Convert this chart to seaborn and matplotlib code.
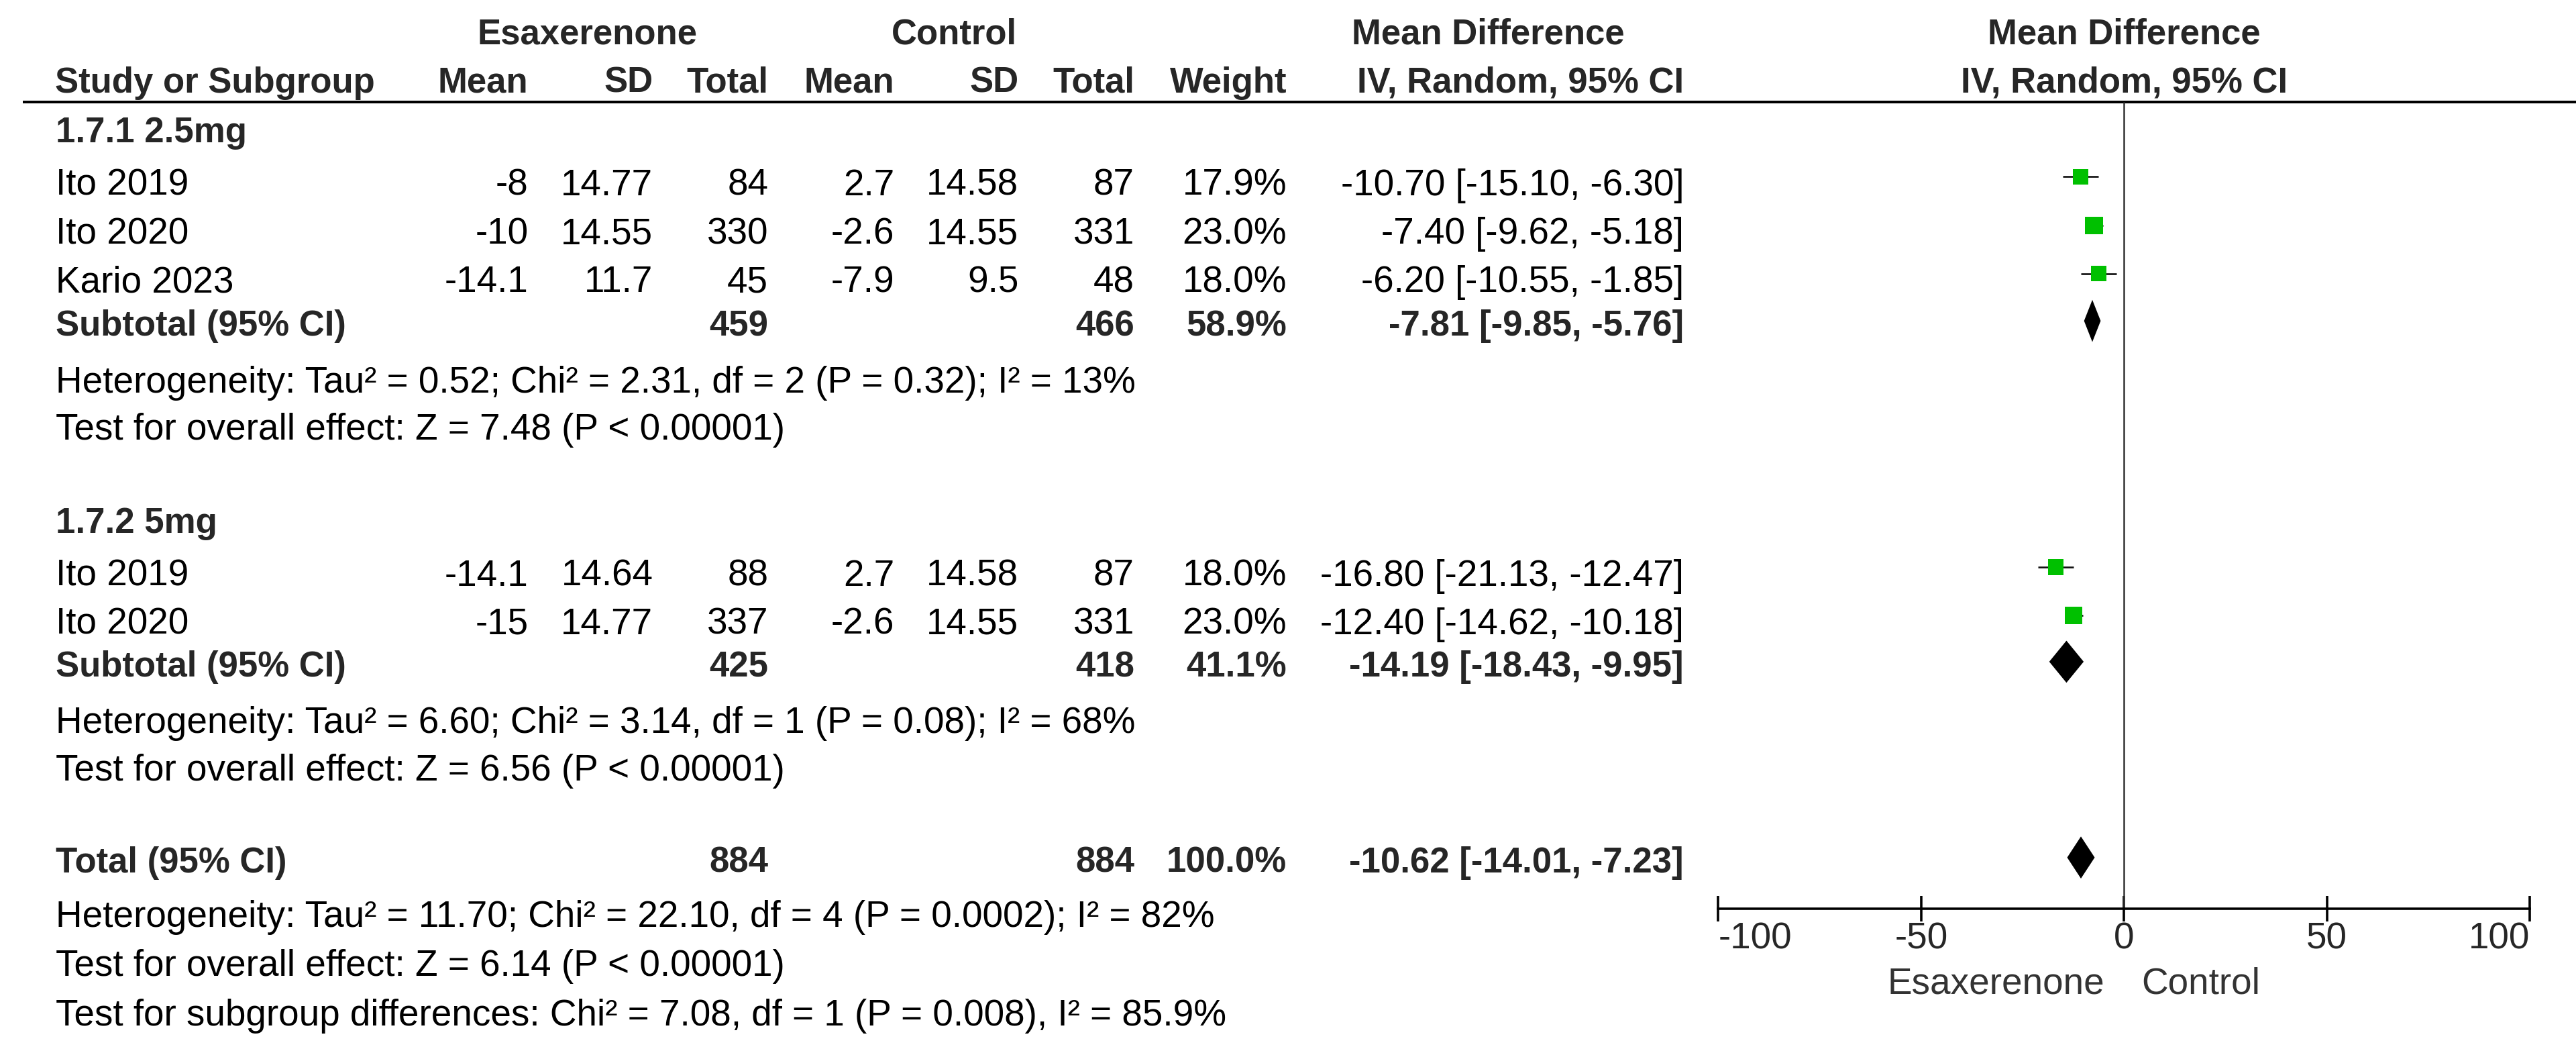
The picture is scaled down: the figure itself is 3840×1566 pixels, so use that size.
import numpy as np
import pandas as pd
import matplotlib
matplotlib.use("Agg")
import matplotlib.pyplot as plt
import seaborn as sns

# ---------------- data ----------------
group_titles = ["1.7.1 2.5mg", "1.7.2 5mg"]

g1_studies = ["Ito 2019", "Ito 2020", "Kario 2023"]
g1_e_mean = [-8, -10, -14.1]
g1_e_sd = [14.77, 14.55, 11.7]
g1_e_n = [84, 330, 45]
g1_c_mean = [2.7, -2.6, -7.9]
g1_c_sd = [14.58, 14.55, 9.5]
g1_c_n = [87, 331, 48]
g1_weight = [17.9, 23.0, 18.0]
g1_md = [-10.70, -7.40, -6.20]
g1_lo = [-15.10, -9.62, -10.55]
g1_hi = [-6.30, -5.18, -1.85]
g1_sub = dict(e_n=459, c_n=466, weight=58.9, md=-7.81, lo=-9.85, hi=-5.76)
g1_het = "Heterogeneity: Tau² = 0.52; Chi² = 2.31, df = 2 (P = 0.32); I² = 13%"
g1_test = "Test for overall effect: Z = 7.48 (P < 0.00001)"

g2_studies = ["Ito 2019", "Ito 2020"]
g2_e_mean = [-14.1, -15]
g2_e_sd = [14.64, 14.77]
g2_e_n = [88, 337]
g2_c_mean = [2.7, -2.6]
g2_c_sd = [14.58, 14.55]
g2_c_n = [87, 331]
g2_weight = [18.0, 23.0]
g2_md = [-16.80, -12.40]
g2_lo = [-21.13, -14.62]
g2_hi = [-12.47, -10.18]
g2_sub = dict(e_n=425, c_n=418, weight=41.1, md=-14.19, lo=-18.43, hi=-9.95)
g2_het = "Heterogeneity: Tau² = 6.60; Chi² = 3.14, df = 1 (P = 0.08); I² = 68%"
g2_test = "Test for overall effect: Z = 6.56 (P < 0.00001)"

total = dict(e_n=884, c_n=884, weight=100.0, md=-10.62, lo=-14.01, hi=-7.23)
total_het = "Heterogeneity: Tau² = 11.70; Chi² = 22.10, df = 4 (P = 0.0002); I² = 82%"
total_test = "Test for overall effect: Z = 6.14 (P < 0.00001)"
subgroup_test = "Test for subgroup differences: Chi² = 7.08, df = 1 (P = 0.008), I² = 85.9%"

x_ticks = [-100, -50, 0, 50, 100]
left_label = "Esaxerenone"
right_label = "Control"

# ---------------- layout (reference frame 1568 x 639.3) ----------------
W, H = 1568.0, 639.3
FS = 39.5      # regular text
FSB = 38       # bold text
BOLD_C = "#262626"
GREEN = "#00C000"

sns.set_theme(style="white")
plt.rcParams["font.family"] = ["Liberation Sans", "DejaVu Sans"]

fig = plt.figure(figsize=(38.41, 15.66), dpi=100)
tab = fig.add_axes([0, 0, 1, 1])
tab.set_xlim(0, W)
tab.set_ylim(H, 0)
tab.axis("off")

X0, X1 = 1045.6, 1539.5  # -100 .. 100
ax = fig.add_axes([X0 / W, 0, (X1 - X0) / W, 1])
ax.set_facecolor("none")
ax.set_xlim(-100, 100)
ax.set_ylim(H, 0)

CAP = 7.7


def txt(x, y, s, ha="left", bold=False, color=None):
    tab.text(x, y + CAP, s, ha=ha, va="baseline",
             fontsize=FSB if bold else FS,
             fontweight="bold" if bold else "normal",
             color=color if color else (BOLD_C if bold else "black"))


col_e_mean, col_e_sd, col_e_n = 321.5, 397.4, 467.5
col_c_mean, col_c_sd, col_c_n = 544.3, 619.8, 690.3
col_w, col_ci = 783.0, 1024.7
col_left = 34.0

# headers
txt(357.6, 19, "Esaxerenone", ha="center", bold=True)
txt(580.6, 19, "Control", ha="center", bold=True)
txt(905.5, 19, "Mean Difference", ha="center", bold=True)
txt(1292.7, 19, "Mean Difference", ha="center", bold=True)
txt(col_left - 0.5, 48.5, "Study or Subgroup", bold=True)
for xc, s in [(col_e_mean, "Mean"), (col_e_sd, "SD"), (col_e_n, "Total"),
              (col_c_mean, "Mean"), (col_c_sd, "SD"), (col_c_n, "Total"),
              (col_w, "Weight"), (col_ci, "IV, Random, 95% CI")]:
    txt(xc, 48.5, s, ha="right", bold=True)
txt(1292.7, 48.5, "IV, Random, 95% CI", ha="center", bold=True)
tab.hlines(62, 14, W, color="black", lw=2.9)


def ci_str(m, lo, hi):
    return f"{m:.2f} [{lo:.2f}, {hi:.2f}]"


def study_rows(studies, em, esd, en, cm, csd, cn, w, md, lo, hi, ys):
    for i, s in enumerate(studies):
        y = ys[i]
        txt(col_left, y, s)
        txt(col_e_mean, y, f"{em[i]:g}", ha="right")
        txt(col_e_sd, y, f"{esd[i]:g}", ha="right")
        txt(col_e_n, y, f"{en[i]}", ha="right")
        txt(col_c_mean, y, f"{cm[i]:g}", ha="right")
        txt(col_c_sd, y, f"{csd[i]:g}", ha="right")
        txt(col_c_n, y, f"{cn[i]}", ha="right")
        txt(col_w, y, f"{w[i]:.1f}%", ha="right")
        txt(col_ci, y, ci_str(md[i], lo[i], hi[i]), ha="right")


def summary_row(label, d, y):
    txt(col_left, y, label, bold=True)
    txt(col_e_n, y, f"{d['e_n']}", ha="right", bold=True)
    txt(col_c_n, y, f"{d['c_n']}", ha="right", bold=True)
    txt(col_w, y, f"{d['weight']:.1f}%", ha="right", bold=True)
    txt(col_ci, y, ci_str(d["md"], d["lo"], d["hi"]), ha="right", bold=True)


g1_y = [111, 140.6, 170]
g2_y = [348.5, 378]

txt(col_left, 79, group_titles[0], bold=True)
study_rows(g1_studies, g1_e_mean, g1_e_sd, g1_e_n, g1_c_mean, g1_c_sd, g1_c_n,
           g1_weight, g1_md, g1_lo, g1_hi, g1_y)
summary_row("Subtotal (95% CI)", g1_sub, 196.5)
txt(col_left, 231, g1_het)
txt(col_left, 259.5, g1_test)

txt(col_left, 316.5, group_titles[1], bold=True)
study_rows(g2_studies, g2_e_mean, g2_e_sd, g2_e_n, g2_c_mean, g2_c_sd, g2_c_n,
           g2_weight, g2_md, g2_lo, g2_hi, g2_y)
summary_row("Subtotal (95% CI)", g2_sub, 404)
txt(col_left, 438, g2_het)
txt(col_left, 467, g2_test)

summary_row("Total (95% CI)", total, 523)
txt(col_left, 556, total_het)
txt(col_left, 586, total_test)
txt(col_left, 616, subgroup_test)

# ---------------- forest plot ----------------
MK = 3.5  # markers sit slightly above text centres
studies_df = pd.DataFrame({
    "md": g1_md + g2_md,
    "lo": g1_lo + g2_lo,
    "hi": g1_hi + g2_hi,
    "weight": g1_weight + g2_weight,
    "y": [v - MK for v in g1_y + g2_y],
})

AXIS_Y = 552.6
ax.vlines(0, 62, AXIS_Y, color="#333333", lw=1.8, zorder=1)
ax.hlines(studies_df["y"], studies_df["lo"], studies_df["hi"],
          color="#111111", lw=1.9, zorder=2)
wmin, wmax = min(studies_df["weight"]), max(studies_df["weight"])
sns.scatterplot(data=studies_df, x="md", y="y", size="weight",
                sizes=(wmin * 15.5, wmax * 15.5), size_norm=(wmin, wmax),
                marker="s", color=GREEN, edgecolor="none", linewidth=0,
                legend=False, ax=ax, zorder=3)

DH = 12.8
for d, y in [(g1_sub, 196.5 - 1.3), (g2_sub, 404 - 1.5), (total, 523 - 1.4)]:
    ax.fill([d["lo"], d["md"], d["hi"], d["md"]], [y, y - DH, y, y + DH],
            color="black", lw=0, zorder=3)

for side in ["left", "right", "top"]:
    ax.spines[side].set_visible(False)
ax.spines["bottom"].set_position(("data", AXIS_Y))
ax.spines["bottom"].set_color("black")
ax.spines["bottom"].set_linewidth(2.6)
ax.set_xticks(x_ticks)
ax.set_xticklabels([f"{t}" for t in x_ticks])
ax.set_yticks([])
ax.tick_params(axis="x", direction="inout", length=28, width=2.6, color="black",
               labelsize=FS, pad=0.5, bottom=True)
tls = ax.get_xticklabels()
tls[0].set_ha("left")
tls[-1].set_ha("right")
ax.set_xlabel("")
ax.set_ylabel("")

txt(1280.6, 596.7, left_label, ha="right", color="#333333")
txt(1303.0, 596.7, right_label, ha="left", color="#333333")

fig.savefig("out.png", dpi=100, facecolor="white")
